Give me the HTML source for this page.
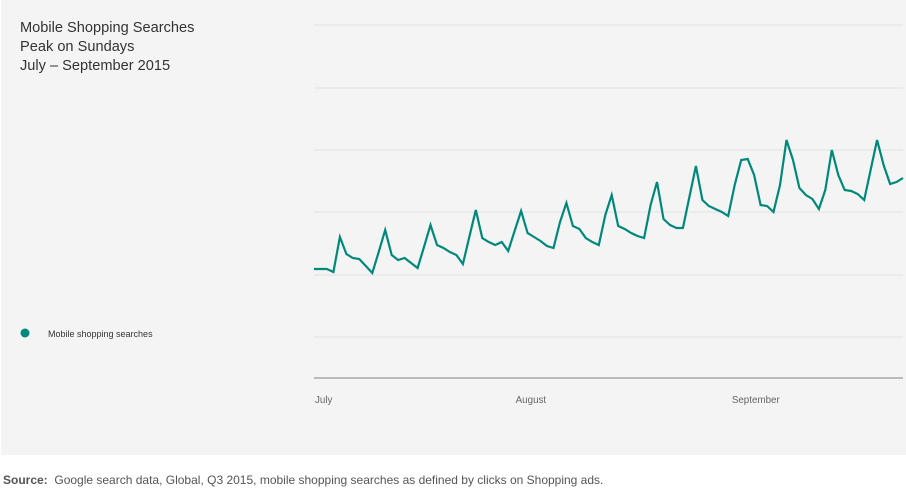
<!DOCTYPE html>
<html><head><meta charset="utf-8"><style>
body{margin:0;width:906px;height:500px;background:#fff;font-family:"Liberation Sans",sans-serif;overflow:hidden}
#panel{position:absolute;left:1px;top:0;width:905px;height:455px;background:#f4f4f4}
.t{position:absolute;left:20px;font-size:14.6px;color:#333}
#src{position:absolute;left:3px;top:473px;font-size:12px;color:#555}
svg{position:absolute;left:0;top:0}
</style></head><body>
<div id="panel"></div>
<div class="t" style="top:20px">Mobile Shopping Searches</div>
<div class="t" style="top:39px">Peak on Sundays</div>
<div class="t" style="top:58px">July – September 2015</div>
<svg id="chart" width="906" height="500">
<circle cx="25" cy="333" r="4.5" fill="#00897b"/>
<text x="48" y="337" font-size="9" fill="#333">Mobile shopping searches</text>
</svg>
<div id="src"><b>Source:</b>&nbsp; Google search data, Global, Q3 2015, mobile shopping searches as defined by clicks on Shopping ads.</div>
<script>
const values=[109,109,109,106,141,124,120,119,112,105,126,148,123,118,120,115,110,131,153,133,130,126,123,114,141,168,140,136,133,136,127,147,167,145,141,137,132,130,156,175,152,149,140,136,133,163,183,152,149,145,142,140,173,196,159,153,150,150,181,212,178,172,169,166,162,193,218,219,203,173,172,166,193,238,218,190,183,179,169,188,228,203,188,187,184,178,208,238,213,194,196,200];
const monthLabels=["July","August","September"];
const monthLabelIdx=[0,31,64.4];
const gridVals=[41,103,166,228,290,353];
const ns="http://www.w3.org/2000/svg";
const svg=document.getElementById('chart');
const x0=314,x1=903,yBase=378;
const xs=i=>x0+(x1-x0)*i/(values.length-1);
const ys=v=>yBase-v;
gridVals.forEach(g=>{const l=document.createElementNS(ns,'line');
l.setAttribute('x1',x0);l.setAttribute('x2',x1);l.setAttribute('y1',ys(g));l.setAttribute('y2',ys(g));
l.setAttribute('stroke','#e2e2e2');l.setAttribute('stroke-width','1');


svg.appendChild(l);});
const ax=document.createElementNS(ns,'line');
ax.setAttribute('x1',x0);ax.setAttribute('x2',x1);ax.setAttribute('y1',yBase);ax.setAttribute('y2',yBase);
ax.setAttribute('stroke','#999');ax.setAttribute('stroke-width','1.3');


svg.appendChild(ax);
monthLabels.forEach((m,k)=>{const t=document.createElementNS(ns,'text');
t.setAttribute('x',xs(monthLabelIdx[k])+1);t.setAttribute('y',403);t.setAttribute('font-size','9.8');t.setAttribute('fill','#666');
t.textContent=m;


svg.appendChild(t);});
const p=document.createElementNS(ns,'polyline');
p.setAttribute('points',values.map((v,i)=>xs(i).toFixed(1)+','+ys(v)).join(' '));
p.setAttribute('fill','none');p.setAttribute('stroke','#00897b');p.setAttribute('stroke-width','2.2');p.setAttribute('stroke-linejoin','miter');


svg.appendChild(p);
</script>
</body></html>
